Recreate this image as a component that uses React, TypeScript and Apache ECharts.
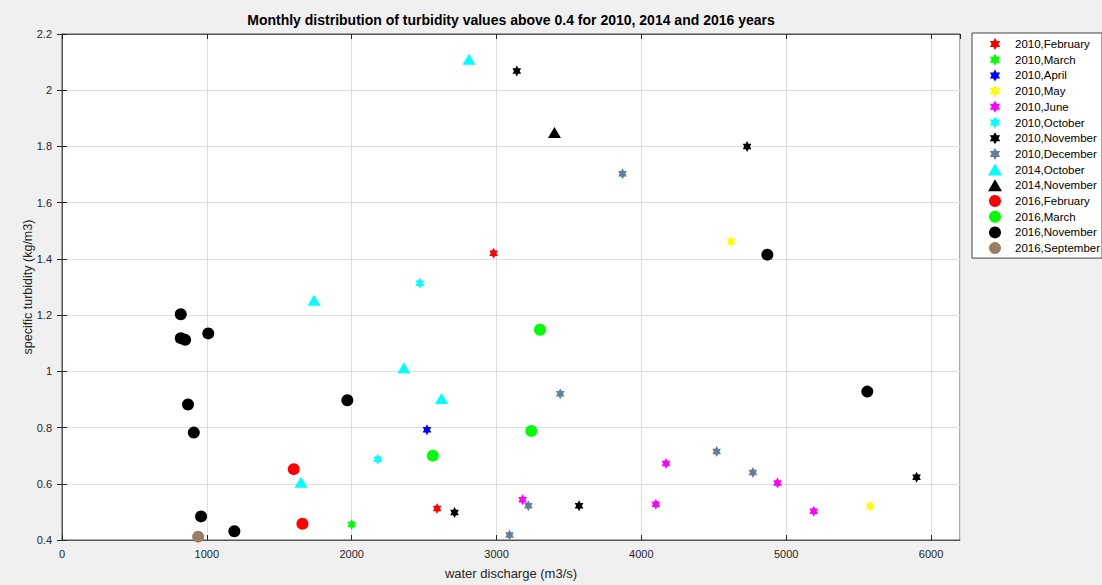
import React, { useEffect, useRef } from "react";
import * as echarts from "echarts";

const titleText = "Monthly distribution of turbidity values above 0.4 for 2010, 2014 and 2016 years";
const xName = "water discharge (m3/s)";
const yName = "specific turbidity (kg/m3)";

const feb2010: [number, number][] = [[2980, 1.42], [2590, 0.512]];
const mar2010: [number, number][] = [[2000, 0.455]];
const apr2010: [number, number][] = [[2520, 0.792]];
const may2010: [number, number][] = [[4620, 1.462], [5580, 0.52]];
const jun2010: [number, number][] = [[3180, 0.543], [4100, 0.527], [4170, 0.672], [4940, 0.603], [5190, 0.502]];
const oct2010: [number, number][] = [[2470, 1.313], [2180, 0.687]];
const nov2010: [number, number][] = [[3140, 2.068], [4730, 1.8], [2710, 0.498], [3570, 0.522], [5900, 0.623]];
const dec2010: [number, number][] = [[3870, 1.703], [3440, 0.92], [4520, 0.715], [4770, 0.64], [3220, 0.522], [3090, 0.418]];
const oct2014: [number, number][] = [[2810, 2.11], [1740, 1.253], [2360, 1.013], [2620, 0.903], [1650, 0.605]];
const nov2014: [number, number][] = [[3400, 1.85]];
const feb2016: [number, number][] = [[1600, 0.652], [1660, 0.458]];
const mar2016: [number, number][] = [[3300, 1.148], [3240, 0.788], [2560, 0.7]];
const nov2016: [number, number][] = [
  [4870, 1.415], [5560, 0.928], [820, 1.203], [820, 1.118], [850, 1.112], [1010, 1.135],
  [870, 0.882], [910, 0.782], [1970, 0.897], [960, 0.484], [1190, 0.431],
];
const sep2016: [number, number][] = [[940, 0.412]];

const xTicks = { min: 0, max: 6200, interval: 1000 };
const yTicks = { min: 0.4, max: 2.2, interval: 0.2 };

const STAR =
  "path://M50 0 L64.43 25 L93.3 25 L78.87 50 L93.3 75 L64.43 75 L50 100 L35.57 75 L6.7 75 L21.13 50 L6.7 25 L35.57 25 Z";

const seriesDefs = [
  { name: "2010,February", data: feb2010, color: "#ff0000", kind: "star" },
  { name: "2010,March", data: mar2010, color: "#00ff00", kind: "star" },
  { name: "2010,April", data: apr2010, color: "#0000ff", kind: "star" },
  { name: "2010,May", data: may2010, color: "#ffff00", kind: "star" },
  { name: "2010,June", data: jun2010, color: "#ff00ff", kind: "star" },
  { name: "2010,October", data: oct2010, color: "#00ffff", kind: "star" },
  { name: "2010,November", data: nov2010, color: "#000000", kind: "star" },
  { name: "2010,December", data: dec2010, color: "#62809c", kind: "star" },
  { name: "2014,October", data: oct2014, color: "#00ffff", kind: "tri" },
  { name: "2014,November", data: nov2014, color: "#000000", kind: "tri" },
  { name: "2016,February", data: feb2016, color: "#ff0000", kind: "circle" },
  { name: "2016,March", data: mar2016, color: "#00ff00", kind: "circle" },
  { name: "2016,November", data: nov2016, color: "#000000", kind: "circle" },
  { name: "2016,September", data: sep2016, color: "#9c7d60", kind: "circle" },
];

const FONT = "'Liberation Sans', Arial, Helvetica, sans-serif";
const AX = "#262626";

export default function App() {
  const ref = useRef<HTMLDivElement>(null);
  useEffect(() => {
    if (!ref.current) return;
    const chart = echarts.init(ref.current, undefined, { renderer: "svg" });
    const gridL = 62, gridT = 34, gridW = 898, gridH = 506;
    chart.setOption({
      animation: false,
      backgroundColor: "#f0f0f0",
      textStyle: { fontFamily: FONT },
      graphic: [
        {
          type: "text",
          x: gridL + gridW / 2,
          y: 20,
          style: {
            text: titleText,
            fontFamily: FONT,
            fontWeight: "bold",
            fontSize: 14,
            fill: "#000",
            align: "center",
            verticalAlign: "middle",
          },
        },
        {
          type: "text",
          x: 28,
          y: gridT + gridH / 2,
          rotation: Math.PI / 2,
          style: {
            text: yName,
            fontFamily: FONT,
            fontSize: 12.5,
            fill: AX,
            align: "center",
            verticalAlign: "middle",
          },
        },
      ],
      grid: {
        left: gridL,
        top: gridT,
        width: gridW,
        height: gridH,
        show: true,
        backgroundColor: "#ffffff",
        borderColor: "#555",
        borderWidth: 1,
      },
      legend: {
        orient: "vertical",
        left: 972,
        top: 33,
        padding: [5, 2, 4, 16],
        itemWidth: 14,
        itemHeight: 12,
        itemGap: 3.7,
        backgroundColor: "#ffffff",
        borderColor: "#444",
        borderWidth: 1,
        borderRadius: 0,
        textStyle: { fontFamily: FONT, fontSize: 11.5, color: "#000", lineHeight: 12, padding: [0, 0, 0, 8] },
        data: seriesDefs.map((s) => s.name),
      },
      xAxis: [
        {
          type: "value",
          ...xTicks,
          name: xName,
          nameLocation: "middle",
          nameGap: 27,
          nameTextStyle: { fontFamily: FONT, fontSize: 13, color: AX },
          axisLine: { show: true, lineStyle: { color: "#555" } },
          axisTick: { show: true, inside: true, length: 5, lineStyle: { color: AX } },
          axisLabel: {
            fontFamily: FONT,
            fontSize: 11,
            color: AX,
            margin: 8,
            showMaxLabel: false,
            formatter: (v: number) => String(v),
          },
          splitLine: { show: true, lineStyle: { color: "#dedede" } },
        },
        {
          type: "value",
          ...xTicks,
          position: "top",
          axisLine: { show: true, lineStyle: { color: "#555" } },
          axisTick: { show: true, inside: true, length: 5, lineStyle: { color: AX } },
          axisLabel: { show: false },
          splitLine: { show: false },
        },
      ],
      yAxis: [
        {
          type: "value",
          ...yTicks,
          axisLine: { show: true, lineStyle: { color: "#555" } },
          axisTick: { show: true, inside: true, length: 5, lineStyle: { color: AX } },
          axisLabel: { fontFamily: FONT, fontSize: 11, color: AX, margin: 10 },
          splitLine: { show: true, lineStyle: { color: "#dedede" } },
        },
        {
          type: "value",
          ...yTicks,
          position: "right",
          axisLine: { show: true, lineStyle: { color: "#555" } },
          axisTick: { show: true, inside: true, length: 5, lineStyle: { color: AX } },
          axisLabel: { show: false },
          splitLine: { show: false },
        },
      ],
      series: seriesDefs.map((s) => ({
        name: s.name,
        type: "scatter",
        data: s.data,
        xAxisIndex: 0,
        yAxisIndex: 0,
        symbol: s.kind === "star" ? STAR : s.kind === "tri" ? "triangle" : "circle",
        symbolSize: s.kind === "star" ? [10, 11] : s.kind === "tri" ? [13, 11] : 12,
        symbolKeepAspect: true,
        itemStyle: { color: s.color, opacity: 1 },
        emphasis: { disabled: true },
      })),
    });
    return () => chart.dispose();
  }, []);
  return (
    <div
      ref={ref}
      style={{ position: "absolute", left: 0, top: 0, width: 1102, height: 585 }}
    />
  );
}
